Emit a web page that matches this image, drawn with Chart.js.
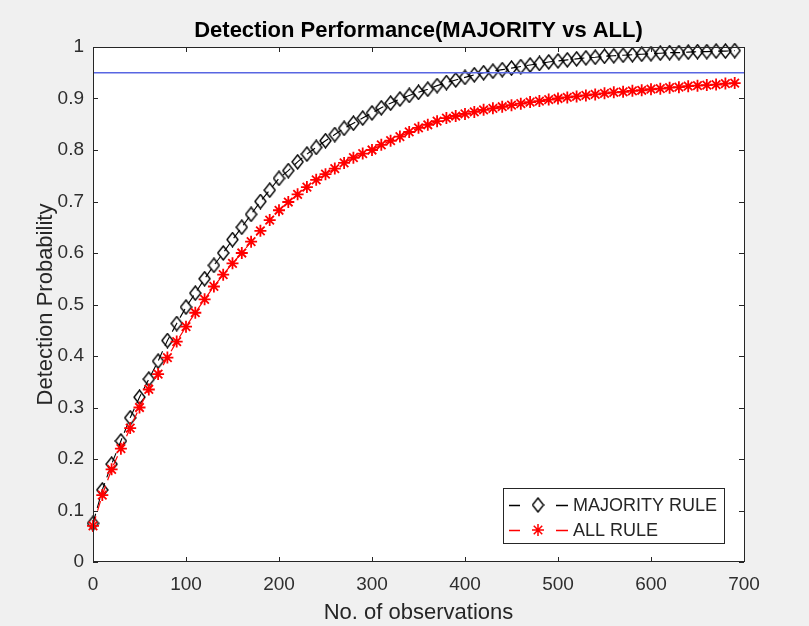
<!DOCTYPE html>
<html>
<head>
<meta charset="utf-8">
<script src="https://cdn.jsdelivr.net/npm/chart.js@4.4.1/dist/chart.umd.min.js"></script>
<style>
  html, body { margin: 0; padding: 0; background: #f0f0f0; }
  #wrap { position: relative; width: 809px; height: 626px; }
</style>
</head>
<body>
<div id="wrap"><canvas id="chart" width="809" height="626"></canvas></div>
<script>
// ---- data ----
const observations = [
    0, 10, 20, 30, 40, 50, 60, 70, 80, 90,
    100, 110, 120, 130, 140, 150, 160, 170, 180, 190,
    200, 210, 220, 230, 240, 250, 260, 270, 280, 290,
    300, 310, 320, 330, 340, 350, 360, 370, 380, 390,
    400, 410, 420, 430, 440, 450, 460, 470, 480, 490,
    500, 510, 520, 530, 540, 550, 560, 570, 580, 590,
    600, 610, 620, 630, 640, 650, 660, 670, 680, 690
];
const majorityRule = [
    0.075, 0.14, 0.19, 0.235, 0.28, 0.32, 0.355, 0.39, 0.43, 0.463,
    0.495, 0.522, 0.55, 0.576, 0.60, 0.626, 0.65, 0.675, 0.70, 0.722,
    0.745, 0.76, 0.777, 0.792, 0.805, 0.818, 0.83, 0.842, 0.852, 0.862,
    0.872, 0.882, 0.891, 0.899, 0.906, 0.912, 0.918, 0.925, 0.931, 0.936,
    0.941, 0.946, 0.95, 0.953, 0.956, 0.959, 0.962, 0.965, 0.968, 0.971,
    0.973, 0.975, 0.977, 0.979, 0.980, 0.982, 0.983, 0.984, 0.985, 0.986,
    0.987, 0.988, 0.989, 0.989, 0.990, 0.991, 0.991, 0.992, 0.992, 0.993
];
const allRule = [
    0.07, 0.13, 0.18, 0.22, 0.26, 0.30, 0.335, 0.365, 0.397, 0.428,
    0.457, 0.484, 0.51, 0.535, 0.558, 0.58, 0.60, 0.622, 0.643, 0.664,
    0.683, 0.699, 0.714, 0.728, 0.742, 0.753, 0.764, 0.775, 0.785, 0.793,
    0.80, 0.81, 0.818, 0.826, 0.835, 0.843, 0.849, 0.856, 0.862, 0.866,
    0.870, 0.874, 0.878, 0.881, 0.884, 0.887, 0.890, 0.893, 0.895, 0.898,
    0.900, 0.902, 0.904, 0.906, 0.908, 0.910, 0.912, 0.913, 0.915, 0.916,
    0.918, 0.919, 0.921, 0.922, 0.924, 0.925, 0.926, 0.927, 0.929, 0.930
];
const thresholdX = [0, 700];
const thresholdY = [0.95, 0.95];
const xTicks = [0, 100, 200, 300, 400, 500, 600, 700];
const yTicks = [0, 0.1, 0.2, 0.3, 0.4, 0.5, 0.6, 0.7, 0.8, 0.9, 1];
const seriesNames = ['MAJORITY RULE', 'ALL RULE'];

const FONT = "'Liberation Sans', Arial, Helvetica, sans-serif";
const AXIS = '#262626';

const toPoints = (xs, ys) => xs.map((x, i) => ({ x: x, y: ys[i] }));

// MATLAB style diamond: a bit taller than wide
function makeDiamond(w, h, color) {
    const c = document.createElement('canvas');
    c.width = w; c.height = h;
    const g = c.getContext('2d');
    g.strokeStyle = color;
    g.lineWidth = 1.4;
    g.beginPath();
    g.moveTo(w / 2, 1);
    g.lineTo(w - 1, h / 2);
    g.lineTo(w / 2, h - 1);
    g.lineTo(1, h / 2);
    g.closePath();
    g.stroke();
    return c;
}
const diamond = makeDiamond(13, 16, '#000');

// background, box, inward ticks, title and the boxed legend
const matlabFrame = {
    id: 'matlabFrame',
    beforeDraw(chart) {
        const { ctx, chartArea: a } = chart;
        ctx.save();
        ctx.fillStyle = '#f0f0f0';
        ctx.fillRect(0, 0, chart.width, chart.height);
        ctx.fillStyle = '#ffffff';
        ctx.fillRect(a.left, a.top, a.right - a.left, a.bottom - a.top);
        ctx.restore();
    },
    afterDraw(chart) {
        const { ctx, chartArea: a } = chart;
        const xs = chart.scales.x, ys = chart.scales.y;
        ctx.save();
        ctx.strokeStyle = AXIS;
        ctx.lineWidth = 1;
        ctx.strokeRect(a.left + 0.5, a.top + 0.5, a.right - a.left, a.bottom - a.top - 1);

        ctx.beginPath();
        xTicks.forEach(v => {
            const px = Math.round(xs.getPixelForValue(v)) + 0.5;
            ctx.moveTo(px, a.bottom); ctx.lineTo(px, a.bottom - 5);
            ctx.moveTo(px, a.top); ctx.lineTo(px, a.top + 5);
        });
        yTicks.forEach(v => {
            const py = Math.round(ys.getPixelForValue(v)) + 0.5;
            ctx.moveTo(a.left, py); ctx.lineTo(a.left + 5, py);
            ctx.moveTo(a.right, py); ctx.lineTo(a.right - 5, py);
        });
        ctx.stroke();

        // title
        ctx.fillStyle = '#000';
        ctx.font = 'bold 22px ' + FONT;
        ctx.textAlign = 'center';
        ctx.textBaseline = 'alphabetic';
        ctx.fillText('Detection Performance(MAJORITY vs ALL)', (a.left + a.right) / 2, 37);

        // legend box
        const lx = 503.5, ly = 488.5, lw = 221, lh = 55;
        ctx.fillStyle = '#fff';
        ctx.fillRect(lx, ly, lw, lh);
        ctx.strokeStyle = AXIS;
        ctx.strokeRect(lx, ly, lw, lh);

        const rows = [
            { y: 505, color: '#000', name: seriesNames[0], marker: 'diamond' },
            { y: 530, color: '#ff0000', name: seriesNames[1], marker: 'star' }
        ];
        rows.forEach(r => {
            ctx.strokeStyle = r.color;
            ctx.lineWidth = 1.5;
            ctx.beginPath();
            ctx.moveTo(509, r.y + 0.5); ctx.lineTo(520, r.y + 0.5);
            ctx.moveTo(556, r.y + 0.5); ctx.lineTo(568, r.y + 0.5);
            ctx.stroke();
            if (r.marker === 'diamond') {
                ctx.drawImage(diamond, 538 - diamond.width / 2, r.y - diamond.height / 2);
            } else {
                ctx.strokeStyle = '#ff0000';
                Chart.helpers.drawPoint(ctx, { pointStyle: 'star', radius: 6, borderWidth: 1.8 }, 538, r.y);
            }
            ctx.fillStyle = AXIS;
            ctx.font = '18px ' + FONT;
            ctx.textAlign = 'left';
            ctx.textBaseline = 'middle';
            ctx.fillText(r.name, 573, r.y + 1);
        });
        ctx.restore();
    }
};

const ctx = document.getElementById('chart').getContext('2d');
new Chart(ctx, {
    type: 'line',
    data: {
        datasets: [
            {
                label: 'threshold',
                data: toPoints(thresholdX, thresholdY),
                borderColor: 'rgb(88,102,226)',
                borderWidth: 1.6,
                pointRadius: 0,
                order: 0
            },
            {
                label: seriesNames[1],
                data: toPoints(observations, allRule),
                borderColor: '#ff0000',
                borderWidth: 1.2,
                borderDash: [10, 6],
                pointStyle: 'star',
                pointRadius: 6,
                pointBorderWidth: 1.8,
                pointBorderColor: '#ff0000',
                pointBackgroundColor: '#ff0000',
                clip: false,
                order: 1
            },
            {
                label: seriesNames[0],
                data: toPoints(observations, majorityRule),
                borderColor: '#000',
                borderWidth: 1.1,
                borderDash: [10, 6],
                pointStyle: diamond,
                pointRadius: 7,
                clip: false,
                order: 2
            }
        ]
    },
    options: {
        responsive: false,
        animation: false,
        devicePixelRatio: 1,
        layout: { padding: { left: 0, right: 65, top: 47, bottom: 0 } },
        plugins: {
            legend: { display: false },
            tooltip: { enabled: false },
            title: { display: false }
        },
        scales: {
            x: {
                type: 'linear',
                min: 0,
                max: 700,
                afterBuildTicks: s => { s.ticks = xTicks.map(v => ({ value: v })); },
                afterFit: s => { s.height = 64; },
                grid: { display: false, drawTicks: false },
                border: { display: false },
                ticks: {
                    color: '#2e2e2e',
                    font: { family: FONT, size: 19 },
                    padding: 11,
                    maxRotation: 0,
                    callback: v => String(v)
                },
                title: {
                    display: true,
                    text: 'No. of observations',
                    color: AXIS,
                    font: { family: FONT, size: 22 },
                    padding: { top: 0, bottom: 0 }
                }
            },
            y: {
                min: 0,
                max: 1,
                afterBuildTicks: s => { s.ticks = yTicks.map(v => ({ value: v })); },
                afterFit: s => { s.width = 93; },
                grid: { display: false, drawTicks: false },
                border: { display: false },
                ticks: {
                    color: '#2e2e2e',
                    font: { family: FONT, size: 19 },
                    padding: 9,
                    callback: v => String(v)
                },
                title: {
                    display: true,
                    text: 'Detection Probability',
                    color: AXIS,
                    font: { family: FONT, size: 22 },
                    padding: { top: 33, bottom: 0 }
                }
            }
        }
    },
    plugins: [matlabFrame]
});
</script>
</body>
</html>
